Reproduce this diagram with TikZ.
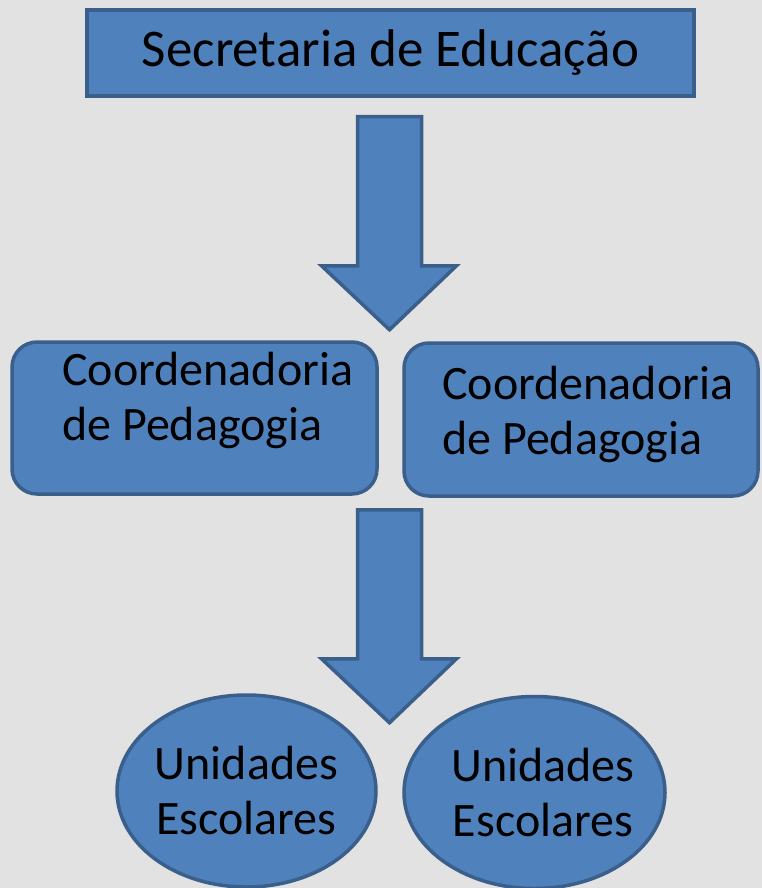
\documentclass[tikz,border=0pt]{standalone}
\usepackage{fontspec}
\setmainfont{Carlito}
\usetikzlibrary{calc, shapes.geometric}
\definecolor{boxblue}{HTML}{4F81BD}
\definecolor{boxline}{HTML}{3A5F8B}
\definecolor{paper}{HTML}{E2E2E2}

\begin{document}
\begin{tikzpicture}[x=1pt, y=-1pt,
		bluebox/.style={draw=boxline, line width=3.5pt, fill=boxblue},
		txt/.style={font=\fontsize{48}{55}\selectfont, inner sep=0pt, align=left}]
			\useasboundingbox (0,0) rectangle (762,888);
			\fill[paper] (0,0) rectangle (762,888);

			\node (0) at (390.5, 53) [bluebox, minimum width=607pt, minimum height=86pt, font=\fontsize{53}{64}\selectfont] {Secretaria de Educação};
			\node (1) at (194.5, 418) [bluebox, rounded corners=25pt, minimum width=365pt, minimum height=152pt] {};
			\node (2) at (581, 419.5) [bluebox, rounded corners=25pt, minimum width=354pt, minimum height=153pt] {};
			\node (1t) at (62, 400) [txt, anchor=west] {Coordenadoria\\de Pedagogia};
			\node (2t) at (442, 414) [txt, anchor=west] {Coordenadoria\\de Pedagogia};
			\node (3) at (246.5, 791) [bluebox, ellipse, minimum width=257pt, minimum height=192pt, txt, align=center] {Unidades\\Escolares};
			\node (4) at (534.5, 792.5) [bluebox, ellipse, minimum width=261pt, minimum height=192pt] {};
			\node (4t) at (543, 793) [txt, align=center] {Unidades\\Escolares};

			\draw[bluebox] ($(0.south)+(-33,19)$) -- ++(64,0) -- ++(0,149) -- ++(35,0) -- ++(-67,64) -- ++(-68,-64) -- ++(36,0) -- cycle;
			\draw[bluebox] ($(1.south east)!0.5!(2.south west)+(-33,13)$) -- ++(64,0) -- ++(0,149) -- ++(35,0) -- ++(-67,64) -- ++(-68,-64) -- ++(36,0) -- cycle;
		\end{tikzpicture}
\end{document}
